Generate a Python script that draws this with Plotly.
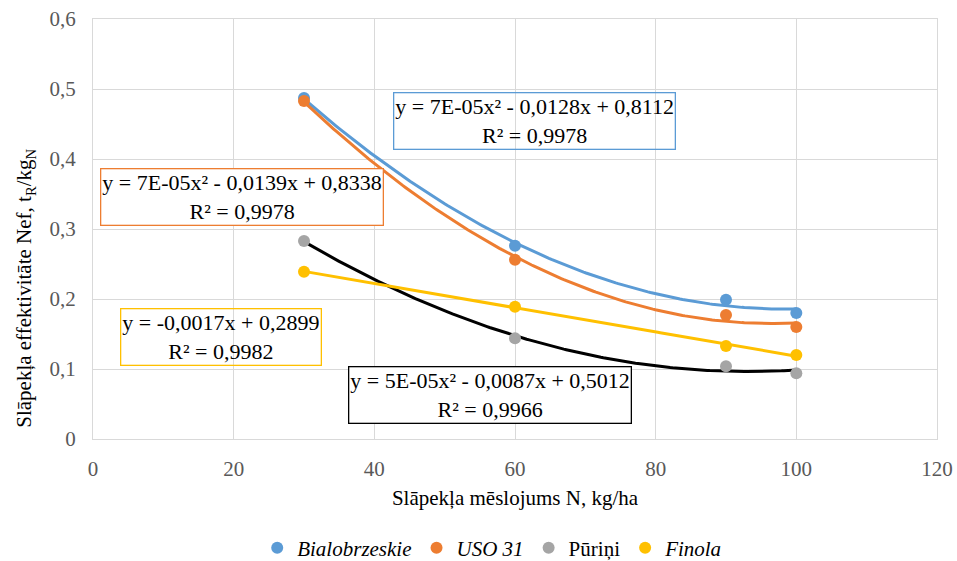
import numpy as np
import plotly.graph_objects as go

x_n = [30, 60, 90, 100]
bialobrzeskie = [0.487, 0.276, 0.199, 0.180]
uso31 = [0.483, 0.256, 0.177, 0.160]
purini = [0.283, 0.144, 0.104, 0.094]
finola = [0.239, 0.189, 0.133, 0.120]

series_names = ["<i>Bialobrzeskie</i>", "<i>USO 31</i>", "Pūriņi", "<i>Finola</i>"]
marker_colors = ["#5b9bd5", "#ed7d31", "#a5a5a5", "#ffc000"]
trend_colors = ["#5b9bd5", "#ed7d31", "#000000", "#ffc000"]
trend_orders = [2, 2, 2, 1]

eq_texts = [
    "y = 7E-05x² - 0,0128x + 0,8112<br>R² = 0,9978",
    "y = 7E-05x² - 0,0139x + 0,8338<br>R² = 0,9978",
    "y = 5E-05x² - 0,0087x + 0,5012<br>R² = 0,9966",
    "y = -0,0017x + 0,2899<br>R² = 0,9982",
]

x_title = "Slāpekļa mēslojums N, kg/ha"
y_title = "Slāpekļa effektivitāte Nef, t<sub>R</sub>/kg<sub>N</sub>"

FONT = "Liberation Serif"
FS = 21
FS_ANN = 22

fig = go.Figure()
all_y = [bialobrzeskie, uso31, purini, finola]
xs = np.linspace(min(x_n), max(x_n), 200)

# trendlines (least-squares fit of the plotted points)
for ys, col, order in zip(all_y, trend_colors, trend_orders):
    coef = np.polyfit(x_n, ys, order)
    fig.add_trace(go.Scatter(x=xs, y=np.polyval(coef, xs), mode="lines",
                             line=dict(color=col, width=3), showlegend=False,
                             hoverinfo="skip"))

# markers
for ys, name, col in zip(all_y, series_names, marker_colors):
    fig.add_trace(go.Scatter(x=x_n, y=ys, mode="markers", name=name,
                             marker=dict(color=col, size=12)))

# label centres in data units
ann_x = [62.8, 21.2, 56.4, 18.2]
ann_y = [0.454, 0.346, 0.063, 0.146]
ann_border = ["#5b9bd5", "#ed7d31", "#000000", "#ffc000"]
ann_bg = ["rgba(0,0,0,0)", "white", "white", "rgba(0,0,0,0)"]

for ax_, ay_, txt, bc, bg in zip(ann_x, ann_y, eq_texts, ann_border, ann_bg):
    fig.add_annotation(x=ax_, y=ay_, xref="x", yref="y",
                       text=txt, showarrow=False, align="center",
                       font=dict(family=FONT, size=FS_ANN, color="#000000"),
                       bordercolor=bc, borderwidth=1.3, borderpad=1, bgcolor=bg)

# y-axis title as rotated annotation (placed lower than axis centre, like reference)
fig.add_annotation(x=-0.0806, y=0.36, xref="paper", yref="paper", text=y_title,
                   textangle=-90, showarrow=False, xanchor="center", yanchor="middle",
                   font=dict(family=FONT, size=FS, color="#000000"))

W, H = 957, 561
L, R, T, B = 93, 20, 19, 122

fig.update_layout(
    width=W, height=H,
    margin=dict(l=L, r=R, t=T, b=B),
    paper_bgcolor="white", plot_bgcolor="white",
    separators=", ",
    font=dict(family=FONT, size=FS, color="#000000"),
    xaxis=dict(range=[0, 120], dtick=20, tick0=0, showgrid=True, gridcolor="#d9d9d9",
               gridwidth=1, zeroline=False, showline=True, linecolor="#d9d9d9", mirror=True,
               ticks="", automargin=False, ticklabelstandoff=11, ticklabeloverflow="allow",
               tickfont=dict(family=FONT, size=FS, color="#595959"),
               title=dict(text=x_title,
                          font=dict(family=FONT, size=FS, color="#000000"), standoff=10)),
    yaxis=dict(range=[0, 0.6], dtick=0.1, tick0=0, showgrid=True, gridcolor="#d9d9d9",
               gridwidth=1, zeroline=False, showline=True, linecolor="#d9d9d9", mirror=True,
               ticks="", automargin=False, ticklabelstandoff=12, ticklabeloverflow="allow",
               tickfont=dict(family=FONT, size=FS, color="#595959")),
    legend=dict(orientation="h", x=0.473, xanchor="center", xref="paper",
                y=0.0232, yanchor="middle", yref="container",
                font=dict(family=FONT, size=FS, color="#000000"),
                itemwidth=30, tracegroupgap=0),
)

fig.write_html("out.html", config={"displayModeBar": False},
               post_script="document.body.style.margin='0';")
